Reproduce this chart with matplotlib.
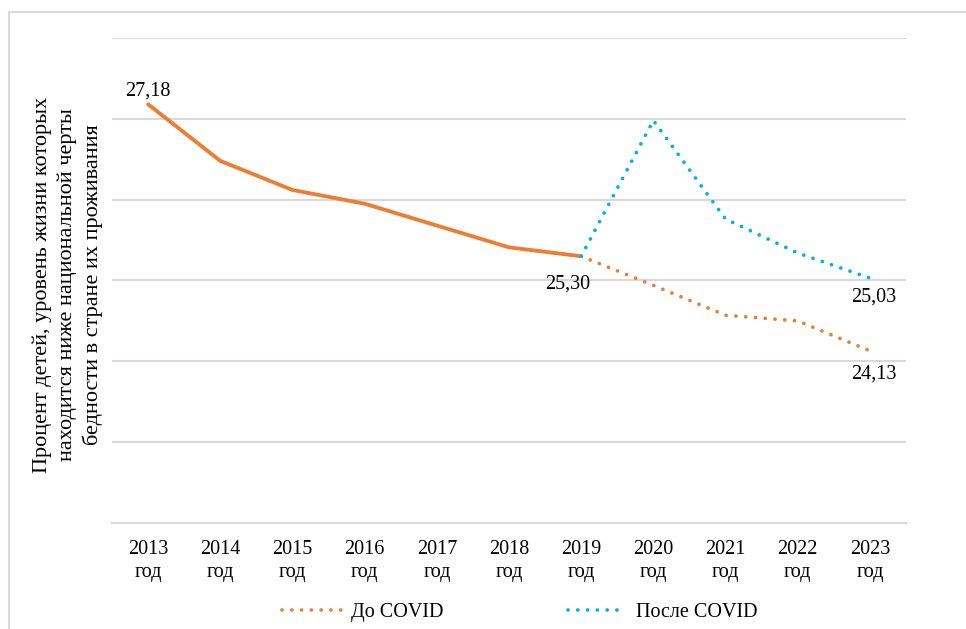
import matplotlib
matplotlib.use("Agg")
import matplotlib.pyplot as plt
from matplotlib.lines import Line2D

plt.rcParams['font.family'] = ['Liberation Serif', 'DejaVu Serif']

# data
years = ["2013", "2014", "2015", "2016", "2017", "2018", "2019", "2020", "2021", "2022", "2023"]
history = [27.18, 26.48, 26.12, 25.95, 25.68, 25.41, 25.30]   # 2013-2019, solid line
before_covid = [25.30, 24.94, 24.57, 24.50, 24.13]            # 2019-2023 forecast "До COVID"
after_covid = [25.30, 26.98, 25.76, 25.34, 25.03]             # 2019-2023 forecast "После COVID"
legend_labels = ["До COVID", "После COVID"]
ylabel = "Процент детей, уровень жизни которых\nнаходится ниже национальной черты\nбедности в стране их проживания"

orange = "#ED7D31"
blue = "#00B0F0"
grid_c = "#D9D9D9"
dotted = (0, (0.01, 2.6))

W, H = 966, 629
fig = plt.figure(figsize=(W / 100, H / 100), dpi=100)
ax = fig.add_axes([112 / W, 1 - 523 / H, (906 - 112) / W, (523 - 38) / H])

x_hist = list(range(len(history)))
x_fc = list(range(len(history) - 1, len(years)))

ax.plot(x_hist, history, color=orange, lw=2.75, solid_capstyle='round', zorder=3)
ax.plot(x_fc, before_covid, color=orange, lw=2.7, linestyle=dotted, dash_capstyle='round', zorder=3)
ax.plot(x_fc, after_covid, color=blue, lw=2.7, linestyle=dotted, dash_capstyle='round', zorder=3)

fs = 14.5
# data labels
ax.annotate("27,18", (x_hist[0], history[0]), xytext=(0, 9.5), textcoords='offset points',
            ha='center', va='center', fontsize=fs)
ax.annotate("25,30", (x_hist[-1], history[-1]), xytext=(-10, -20), textcoords='offset points',
            ha='center', va='center', fontsize=fs)
ax.annotate("25,03", (x_fc[-1], after_covid[-1]), xytext=(2.5, -13.5), textcoords='offset points',
            ha='center', va='center', fontsize=fs)
ax.annotate("24,13", (x_fc[-1], before_covid[-1]), xytext=(2.5, -16.5), textcoords='offset points',
            ha='center', va='center', fontsize=fs)

ax.set_xlim(-0.5, len(years) - 0.5)
ax.set_ylim(22, 28)
ax.set_yticks(range(22, 29))
ax.set_yticklabels([])
ax.set_xticks(range(len(years)))
ax.set_xticklabels([y + "\nгод" for y in years], fontsize=fs, linespacing=1.3)
ax.tick_params(axis='both', length=0)
ax.tick_params(axis='x', pad=12)
ax.grid(axis='y', color=grid_c, lw=1.5)
ax.set_axisbelow(True)
for s in ['left', 'right', 'top']:
    ax.spines[s].set_visible(False)
ax.spines['bottom'].set_color(grid_c)
ax.spines['bottom'].set_linewidth(1.5)

fig.text(68 / W, 1 - 285 / H, ylabel, rotation=90, ha='center', va='center',
         multialignment='center', fontsize=16, linespacing=1.35)

handles = [Line2D([0], [0], color=orange, lw=2.7, linestyle=dotted, dash_capstyle='round'),
           Line2D([0], [0], color=blue, lw=2.7, linestyle=dotted, dash_capstyle='round')]
fig.legend(handles, legend_labels, loc='center', bbox_to_anchor=(520 / W, 1 - 612 / H), ncol=2,
           frameon=False, fontsize=fs, handlelength=2.9, handletextpad=0.5, columnspacing=6.2)

# chart area frame (left and top edges visible)
fig.add_artist(Line2D([9 / W, 9 / W], [0, 1 - 12 / H], color=grid_c, lw=1.5, transform=fig.transFigure))
fig.add_artist(Line2D([9 / W, 1], [1 - 12 / H, 1 - 12 / H], color=grid_c, lw=1.5, transform=fig.transFigure))

fig.savefig("out.png", dpi=100)
